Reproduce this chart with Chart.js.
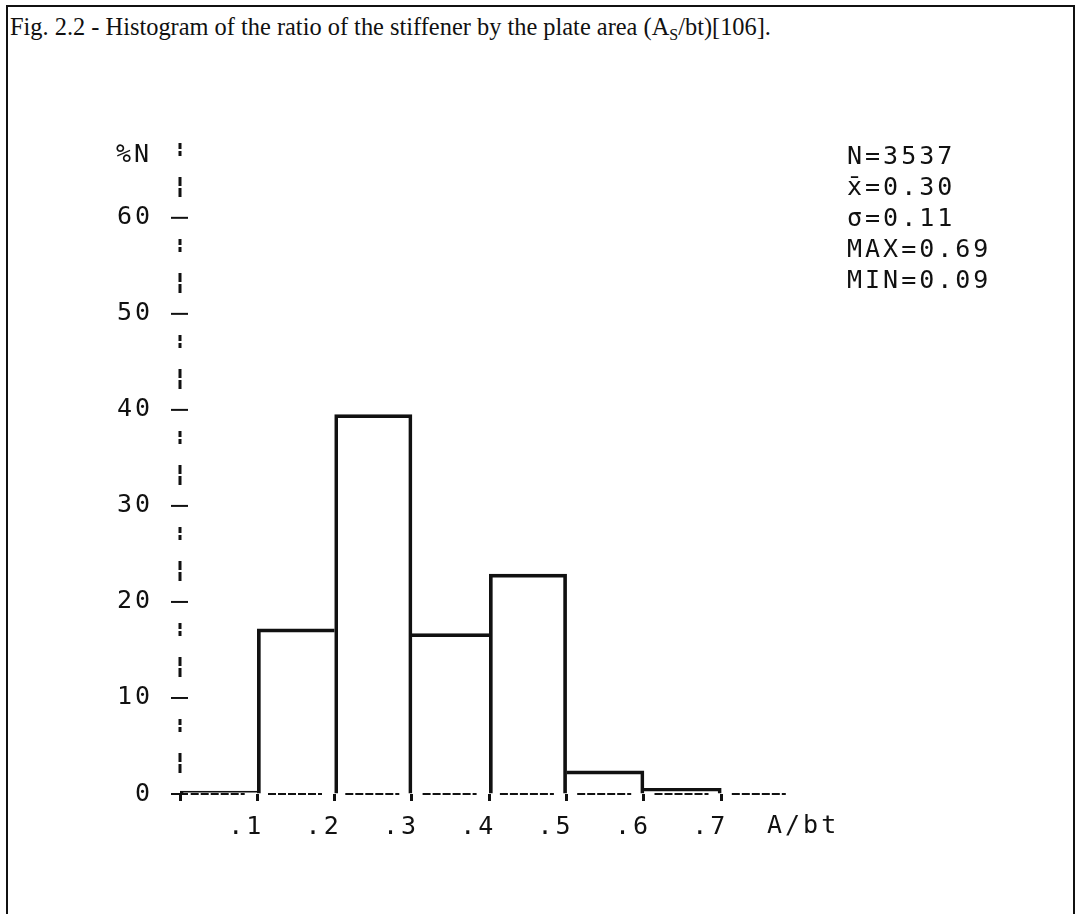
<!DOCTYPE html>
<html>
<head>
<meta charset="utf-8">
<script src="https://cdn.jsdelivr.net/npm/chart.js@4.4.1/dist/chart.umd.min.js"></script>
<style>
  html, body { margin: 0; padding: 0; background: #fff; }
  body { width: 1077px; height: 914px; position: relative; overflow: hidden; }
  #frame {
    position: absolute; left: 6px; top: 5px; width: 1069px; height: 960px;
    border: 2px solid #111; border-bottom: none; box-sizing: border-box;
  }
  #caption {
    position: absolute; left: 10px; top: 13px; white-space: nowrap; color: #111;
    font-family: "Liberation Serif", "Times New Roman", serif; font-size: 24.4px;
  }
  #caption sub { font-size: 16px; vertical-align: -5px; line-height: 0; }
  #histogram { position: absolute; left: 0; top: 0; }
</style>
</head>
<body>
<div id="frame"></div>
<div id="caption">Fig. 2.2 - Histogram of the ratio of the stiffener by the plate area (A<sub>S</sub>/bt)[106].</div>
<canvas id="histogram" width="1077" height="914"></canvas>
<script>
// class edges of A/bt and share of panels per class (%)
const binEdges = [0, 0.1, 0.2, 0.3, 0.4, 0.5, 0.6, 0.7]
const percentN = [0.1, 17.2, 39.5, 16.7, 22.9, 2.4, 0.6]

const yAxisLabel = "%N"
const xAxisLabel = "A/bt"
const statLines = ["N=3537", "x\u0304=0.30", "\u03c3=0.11", "MAX=0.69", "MIN=0.09"]

const ink = "#111"
const plotFont = { family: "'DejaVu Sans Mono', monospace", size: 25 }
const spacing = "3px"

// pen-plotter look: dashed axes, crossing tick marks, wide lettering
const plotterAxes = {
  id: "plotterAxes",
  beforeDraw(chart) {
    chart.ctx.letterSpacing = spacing
  },
  beforeDatasetsDraw(chart) {
    const ctx = chart.ctx
    const area = chart.chartArea
    const yScale = chart.scales.y
    ctx.save()
    ctx.strokeStyle = ink

    // vertical axis: two dash groups between each pair of ticks
    ctx.lineWidth = 3
    ctx.setLineDash([6, 2, 5, 21, 9, 2, 9, 42])
    ctx.lineDashOffset = 94
    ctx.beginPath()
    ctx.moveTo(area.left, area.top)
    ctx.lineTo(area.left, area.bottom + 7)
    ctx.stroke()

    // horizontal axis, broken next to each class edge
    ctx.lineWidth = 2
    ctx.setLineDash([8, 2, 8, 2, 8, 2, 8, 2, 8, 2, 4, 23.3])
    ctx.lineDashOffset = 66.6
    ctx.beginPath()
    ctx.moveTo(area.left, area.bottom)
    ctx.lineTo(area.right, area.bottom)
    ctx.stroke()

    // y tick marks across the axis
    ctx.setLineDash([])
    ctx.lineWidth = 2
    yScale.ticks.forEach((t) => {
      const y = yScale.getPixelForValue(t.value)
      ctx.beginPath()
      ctx.moveTo(area.left - 9, y)
      ctx.lineTo(area.left + 8, y)
      ctx.stroke()
    })
    ctx.restore()
  },
  afterDraw(chart) {
    const ctx = chart.ctx
    const area = chart.chartArea
    ctx.save()
    ctx.letterSpacing = spacing
    ctx.font = plotFont.size + "px " + plotFont.family
    ctx.fillStyle = ink
    ctx.textBaseline = "middle"
    ctx.textAlign = "right"
    ctx.fillText(yAxisLabel, 152, area.top + 14)
    ctx.textAlign = "left"
    ctx.fillText(xAxisLabel, area.right - 20, 826)
    statLines.forEach((t, i) => ctx.fillText(t, 847, 157 + 31 * i))
    ctx.restore()
  },
}

// draw each shared bar edge only once
function edgeWidths(ctx) {
  const i = ctx.dataIndex
  if (i === undefined) return 3
  const v = percentN[i]
  const prev = i > 0 ? percentN[i - 1] : -1
  const next = i < percentN.length - 1 ? percentN[i + 1] : -1
  return { top: 3, left: v >= prev ? 3 : 0, right: v > next ? 3 : 0, bottom: 0 }
}

const ctx = document.getElementById("histogram").getContext("2d")

new Chart(ctx, {
  type: "bar",
  data: {
    datasets: [
      {
        data: percentN.map((v, i) => ({ x: (binEdges[i] + binEdges[i + 1]) / 2, y: v })),
        backgroundColor: "rgba(0,0,0,0)",
        borderColor: ink,
        borderWidth: edgeWidths,
        borderSkipped: "bottom",
        barPercentage: 1,
        categoryPercentage: 1,
        minBarLength: 3,
      },
    ],
  },
  options: {
    responsive: false,
    animation: false,
    events: [],
    layout: { padding: { top: 141, right: 290, bottom: 0, left: 0 } },
    plugins: {
      legend: { display: false },
      tooltip: { enabled: false },
    },
    scales: {
      x: {
        type: "linear",
        min: 0,
        max: 0.785,
        offset: false,
        afterFit: (s) => { s.height = 120 },
        grid: { offset: false, drawOnChartArea: false, tickLength: 7, color: ink, lineWidth: 3 },
        border: { display: false },
        ticks: {
          stepSize: 0.1,
          includeBounds: false,
          autoSkip: false,
          maxRotation: 0,
          padding: 11,
          labelOffset: -11,
          color: ink,
          font: plotFont,
          callback: (v) => (v > 0.05 && v < 0.75 ? "." + Math.round(v * 10) : ""),
        },
      },
      y: {
        min: 0,
        max: 68,
        afterFit: (s) => { s.width = 180 },
        grid: { drawOnChartArea: false, drawTicks: false },
        border: { display: false },
        ticks: {
          stepSize: 10,
          includeBounds: false,
          padding: 27,
          color: ink,
          font: plotFont,
        },
      },
    },
  },
  plugins: [plotterAxes],
})
</script>
</body>
</html>
